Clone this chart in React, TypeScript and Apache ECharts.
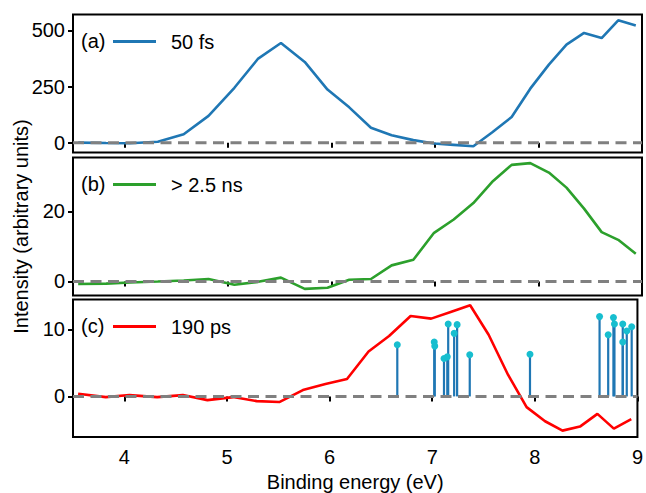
import React, { useEffect, useRef } from "react";
import * as echarts from "echarts";

// Binding energy grid (eV), shared by the three spectra
const energy = [3.55, 3.82, 4.05, 4.32, 4.57, 4.81, 5.06, 5.29, 5.51, 5.74, 5.96, 6.17, 6.38, 6.58, 6.79, 6.99, 7.18, 7.37, 7.55, 7.74, 7.92, 8.1, 8.27, 8.44, 8.61, 8.77, 8.94];
// (a) 50 fs
const fs50 = [1, -1, -2, 5, 38, 120, 245, 375, 444, 360, 237, 158, 67, 34, 12, -3, -9, -15, 46, 115, 241, 348, 437, 489, 466, 545, 522];
// (b) > 2.5 ns
const ns25 = [-0.7, -0.6, -0.3, 0.0, 0.3, 0.7, -0.95, -0.1, 1.1, -2.1, -1.8, 0.5, 0.7, 4.6, 6.2, 13.9, 17.7, 22.4, 28.4, 33.3, 33.8, 31.1, 26.8, 20.8, 14.1, 11.9, 7.9];
// (c) 190 ps
const ps190 = [0.4, -0.1, 0.2, -0.1, 0.2, -0.55, -0.1, -0.7, -0.84, 0.95, 1.84, 2.6, 6.7, 9.0, 12.0, 11.6, 12.6, 13.6, 9.2, 3.2, -1.6, -3.7, -5.1, -4.5, -2.6, -4.8, -3.4];
// stick spectrum in (c)
const stemEnergy = [6.66, 7.02, 7.025, 7.115, 7.147, 7.156, 7.214, 7.243, 7.366, 7.953, 8.631, 8.715, 8.766, 8.776, 8.857, 8.857, 8.896, 8.944];
const stemIntensity = [7.7, 8.1, 7.5, 5.65, 5.9, 10.8, 9.4, 10.7, 6.2, 6.3, 11.9, 9.2, 11.75, 10.8, 10.8, 8.1, 9.75, 10.4];

const xTicks = [4, 5, 6, 7, 8, 9];
const yTicksA = [0, 250, 500];
const yTicksB = [0, 20];
const yTicksC = [0, 10];
const panelLabels = ["(a)", "(b)", "(c)"];
const seriesNames = ["50 fs", "> 2.5 ns", "190 ps"];

const FONT = "Liberation Sans, Arial, Helvetica, sans-serif";
const colors = ["#1f77b4", "#2ca02c", "#ff0000"];

export default function App() {
  const ref = useRef<HTMLDivElement>(null);
  useEffect(() => {
    document.body.style.margin = "0";
    const chart = echarts.init(ref.current!, null, { renderer: "svg" });
    const tops = [14.5, 157.5, 299.5];
    const h = 138;
    const yRanges = [
      [-43, 571],
      [-4, 35.4],
      [-6.05, 14.45],
    ];
    const yTicks = [yTicksA, yTicksB, yTicksC];
    const dataSets = [fs50, ns25, ps190];

    const grids = tops.map((t) => ({
      left: 73,
      right: 4,
      top: t,
      height: h,
      show: true,
      borderColor: "#000",
      borderWidth: 2,
      backgroundColor: "transparent",
      containLabel: false,
    }));

    const xAxes = [0, 1, 2].map((i) => ({
      type: "value",
      gridIndex: i,
      min: 3.5,
      max: 9,
      axisLine: { show: false },
      splitLine: { show: false },
      axisTick: { show: true, length: 5, lineStyle: { color: "#000", width: 2 }, customValues: xTicks },
      axisLabel: {
        show: i === 2,
        customValues: xTicks,
        fontSize: 20,
        color: "#000",
        fontFamily: FONT,
        margin: 10,
      },
      name: i === 2 ? "Binding energy (eV)" : "",
      nameLocation: "middle",
      nameGap: 35,
      nameTextStyle: { fontSize: 20, color: "#000", fontFamily: FONT },
    }));

    const yAxes = [0, 1, 2].map((i) => ({
      type: "value",
      gridIndex: i,
      min: yRanges[i][0],
      max: yRanges[i][1],
      axisLine: { show: false },
      splitLine: { show: false },
      axisTick: { show: true, length: 5, lineStyle: { color: "#000", width: 2 }, customValues: yTicks[i] },
      axisLabel: {
        customValues: yTicks[i],
        fontSize: 20,
        color: "#000",
        fontFamily: FONT,
        margin: 8,
      },
      name: i === 1 ? "Intensity (arbitrary units)" : "",
      nameLocation: "middle",
      nameRotate: 90,
      nameGap: 42,
      nameTextStyle: { fontSize: 20, color: "#000", fontFamily: FONT },
    }));

    const series: any[] = [];
    dataSets.forEach((d, i) => {
      series.push({
        type: "line",
        name: seriesNames[i],
        xAxisIndex: i,
        yAxisIndex: i,
        data: energy.map((e, k) => [e, d[k]]),
        symbol: "none",
        lineStyle: { color: colors[i], width: 2.6 },
        itemStyle: { color: colors[i] },
        z: 3,
      });
    });
    series.push({
      type: "bar",
      name: "stems",
      xAxisIndex: 2,
      yAxisIndex: 2,
      data: stemEnergy.map((e, k) => [e, stemIntensity[k]]),
      barWidth: 2.2,
      itemStyle: { color: "#1f77b4" },
      z: 2,
    });
    series.push({
      type: "scatter",
      name: "stem markers",
      xAxisIndex: 2,
      yAxisIndex: 2,
      data: stemEnergy.map((e, k) => [e, stemIntensity[k]]),
      symbolSize: 7,
      itemStyle: { color: "#17becf", opacity: 1 },
      z: 4,
    });
    [0, 1, 2].forEach((i) => {
      series.push({
        type: "line",
        name: "zero" + i,
        xAxisIndex: i,
        yAxisIndex: i,
        data: [
          [3.5, 0],
          [9, 0],
        ],
        symbol: "none",
        silent: true,
        lineStyle: { color: "#808080", width: 3, type: [11, 6.5] },
        z: 5,
      });
    });

    const legends = [0, 1, 2].map((i) => ({
      data: [{ name: seriesNames[i], icon: "rect" }],
      left: 113,
      top: tops[i] + 17,
      padding: 0,
      itemWidth: 43,
      itemHeight: 3,
      selectedMode: false,
      textStyle: { fontSize: 20, color: "#000", fontFamily: FONT, padding: [0, 0, 0, 10] },
    }));

    const graphics = [0, 1, 2].map((i) => ({
      type: "text",
      left: 81,
      top: tops[i] + 16,
      style: { text: panelLabels[i], fontSize: 20, fill: "#000", fontFamily: FONT },
      z: 10,
    }));

    chart.setOption({
      animation: false,
      backgroundColor: "#fff",
      grid: grids,
      xAxis: xAxes,
      yAxis: yAxes,
      legend: legends,
      graphic: graphics,
      series,
    });
    return () => chart.dispose();
  }, []);
  return <div ref={ref} style={{ width: 646, height: 493 }} />;
}
